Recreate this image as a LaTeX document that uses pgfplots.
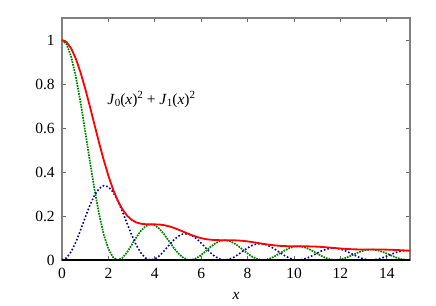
\documentclass[border=0pt]{standalone}
\usepackage{fontspec}
\setmainfont{Liberation Serif}
\usepackage{pgfplots}
\pgfplotsset{compat=1.18}
\usetikzlibrary{calc}
\pgfplotstableread{
x j0sq j1sq sum
0.0 1.0000 0.0000 1.0000
0.2 0.9801 0.0099 0.9900
0.4 0.9224 0.0384 0.9608
0.6 0.8317 0.0822 0.9139
0.8 0.7162 0.1360 0.8522
1.0 0.5855 0.1937 0.7792
1.2 0.4504 0.2483 0.6987
1.4 0.3214 0.2937 0.6151
1.6 0.2074 0.3248 0.5322
1.8 0.1156 0.3381 0.4537
2.0 0.0501 0.3326 0.3827
2.2 0.0122 0.3091 0.3213
2.4 0.0000 0.2706 0.2706
2.6 0.0094 0.2216 0.2310
2.8 0.0342 0.1679 0.2021
3.0 0.0677 0.1150 0.1827
3.2 0.1025 0.0683 0.1708
3.4 0.1327 0.0321 0.1648
3.6 0.1535 0.0091 0.1626
3.8 0.1621 0.0002 0.1623
4.0 0.1577 0.0044 0.1621
4.2 0.1418 0.0192 0.1610
4.4 0.1172 0.0411 0.1583
4.6 0.0877 0.0658 0.1535
4.8 0.0578 0.0891 0.1469
5.0 0.0315 0.1073 0.1388
5.2 0.0122 0.1178 0.1300
5.4 0.0017 0.1192 0.1209
5.6 0.0007 0.1118 0.1125
5.8 0.0084 0.0967 0.1051
6.0 0.0227 0.0766 0.0993
6.2 0.0407 0.0542 0.0949
6.4 0.0592 0.0330 0.0922
6.6 0.0751 0.0156 0.0907
6.8 0.0859 0.0043 0.0902
7.0 0.0901 0.0000 0.0901
7.2 0.0871 0.0029 0.0900
7.4 0.0776 0.0120 0.0896
7.6 0.0633 0.0253 0.0886
7.8 0.0464 0.0406 0.0870
8.0 0.0295 0.0550 0.0845
8.2 0.0149 0.0666 0.0815
8.4 0.0048 0.0733 0.0781
8.6 0.0002 0.0744 0.0746
8.8 0.0015 0.0697 0.0712
9.0 0.0082 0.0602 0.0684
9.2 0.0187 0.0473 0.0660
9.4 0.0313 0.0330 0.0643
9.6 0.0437 0.0195 0.0632
9.8 0.0540 0.0086 0.0626
10.0 0.0605 0.0019 0.0624
10.2 0.0623 0.0000 0.0623
10.4 0.0592 0.0031 0.0623
10.6 0.0518 0.0102 0.0620
10.8 0.0413 0.0202 0.0615
11.0 0.0293 0.0313 0.0606
11.2 0.0177 0.0416 0.0593
11.4 0.0081 0.0495 0.0576
11.6 0.0020 0.0538 0.0558
11.8 0.0000 0.0540 0.0540
12.0 0.0023 0.0499 0.0522
12.2 0.0082 0.0424 0.0506
12.4 0.0168 0.0327 0.0495
12.6 0.0264 0.0221 0.0485
12.8 0.0356 0.0124 0.0480
13.0 0.0428 0.0049 0.0477
13.2 0.0470 0.0007 0.0477
13.4 0.0474 0.0003 0.0477
13.6 0.0441 0.0035 0.0476
13.8 0.0378 0.0097 0.0475
14.0 0.0293 0.0178 0.0471
14.2 0.0200 0.0264 0.0464
14.4 0.0113 0.0342 0.0455
14.6 0.0046 0.0400 0.0446
14.8 0.0007 0.0427 0.0434
15.0 0.0002 0.0421 0.0423
}\bessel
\definecolor{dgreen}{rgb}{0,0.5,0}
\definecolor{dblue}{rgb}{0,0,0.6}
\newcommand{\mysub}[1]{\raisebox{-0.3ex}{\fontsize{11}{12}\selectfont #1}}
\newcommand{\mysup}[1]{\raisebox{0.75ex}{\fontsize{11}{12}\selectfont #1}}
\begin{document}
\fontsize{15.5}{18}\selectfont
\begin{tikzpicture}[font=\fontsize{15.5}{18}\selectfont]
\begin{axis}[
  scale only axis,
  width=348pt, height=242pt,
  xmin=0, xmax=15, ymin=0, ymax=1.1,
  xtick={0,2,...,14},
  ytick={0,0.2,0.4,0.6,0.8,1},
  tick align=inside,
  major tick length=4pt,
  every tick/.style={gray!80!black, line width=0.8pt},
  axis line style={gray, line width=1.2pt},
  tick label style={font=\fontsize{15.5}{18}\selectfont},
  /pgf/number format/assume math mode=true,
  xticklabel style={yshift=-3pt},
  yticklabel style={xshift=-2pt},
  xlabel={\textit{x}},
  xlabel style={yshift=-3pt},
  clip=false,
]
\addplot[dgreen, line width=1.7pt, densely dotted] table[x=x, y=j0sq] {\bessel};
\addplot[dblue, line width=1.6pt, dotted] table[x=x, y=j1sq] {\bessel};
\addplot[red, line width=1.8pt] table[x=x, y=sum] {\bessel};
\addplot[black, line width=1.2pt] coordinates {(0,0) (15,0)};
\node[anchor=west] at (axis cs:1.72,0.73) {\textit{J}\mysub{0}(\textit{x})\mysup{2} + \textit{J}\mysub{1}(\textit{x})\mysup{2}};
\end{axis}
\path ($(current axis.south west)+(-62pt,-45pt)$) rectangle ($(current axis.north east)+(26pt,18pt)$);
\end{tikzpicture}
\end{document}
